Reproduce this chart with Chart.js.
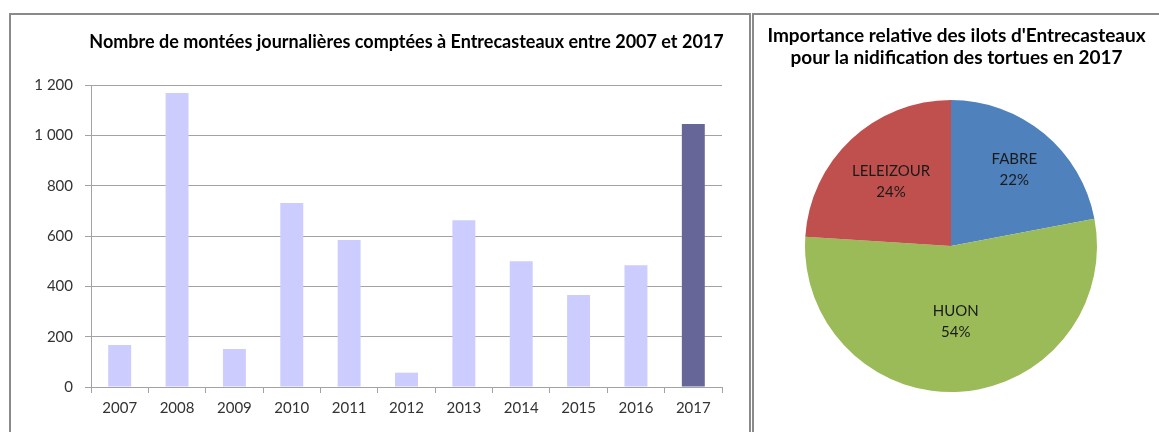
<!DOCTYPE html>
<html>
<head>
<meta charset="utf-8">
<script src="https://cdn.jsdelivr.net/npm/chart.js@4.4.0/dist/chart.umd.min.js"></script>
<style>
  html, body { margin: 0; padding: 0; background: #fff; width: 1159px; height: 432px; overflow: hidden; }
  .box { position: absolute; box-sizing: border-box; border: 2px solid #8a8a8a; border-bottom: none; }
  #leftBox { left: 9px; top: 13px; width: 742px; height: 440px; }
  #rightBox { left: 752px; top: 13px; width: 420px; height: 440px; border-right: none; }
  #barWrap { position: absolute; left: 11px; top: 15px; width: 738px; height: 417px; }
  #pieWrap { position: absolute; left: 754px; top: 15px; width: 405px; height: 417px; }
</style>
</head>
<body>
<div class="box" id="leftBox"></div>
<div class="box" id="rightBox"></div>
<div id="barWrap"><canvas id="bars"></canvas></div>
<div id="pieWrap"><canvas id="pie"></canvas></div>
<script>
// montées journalières, Entrecasteaux
const years = ["2007", "2008", "2009", "2010", "2011", "2012", "2013", "2014", "2015", "2016", "2017"];
const montees = [167, 1168, 151, 731, 584, 57, 663, 500, 366, 484, 1045];
const yTickLabels = ["0", "200", "400", "600", "800", "1 000", "1 200"];

// répartition par ilot en 2017
const ilots = ["FABRE", "HUON", "LELEIZOUR"];
const parts = [22, 54, 24];

const FONT = "Lato";
const GRID = "#a3a3a3";
const TXT = "#333333";

// pie labels drawn inside each slice, name + percent
const sliceLabels = {
  id: "sliceLabels",
  afterDatasetsDraw(chart, args, opts) {
    const ctx = chart.ctx;
    const meta = chart.getDatasetMeta(0);
    const data = chart.data.datasets[0].data;
    const total = data.reduce((a, b) => a + b, 0);
    ctx.save();
    ctx.font = "15px " + FONT;
    ctx.fillStyle = "#1a1a1a";
    ctx.textAlign = "center";
    ctx.textBaseline = "middle";
    meta.data.forEach((arc, i) => {
      const p = arc.getProps(["x", "y", "startAngle", "endAngle", "outerRadius"], true);
      const mid = (p.startAngle + p.endAngle) / 2;
      const r = p.outerRadius * opts.radius[i];
      const cx = p.x + Math.cos(mid) * r;
      const cy = p.y + Math.sin(mid) * r;
      ctx.fillText(chart.data.labels[i], cx, cy - 10.5);
      ctx.fillText(Math.round(data[i] / total * 100) + "%", cx, cy + 10.5);
    });
    ctx.restore();
  }
};

// let the title use more width than the plot area it sits over
const titleRoom = {
  id: "titleRoom",
  afterLayout(chart, args, opts) {
    const t = chart.titleBlock;
    if (opts.full) {
      t.left = 0;
      t.right = chart.width;
    } else {
      t.left -= opts.extra;
      t.right += opts.extra;
    }
    t.width = t.right - t.left;
  }
};

new Chart(document.getElementById("bars"), {
  type: "bar",
  data: {
    labels: years,
    datasets: [{
      data: montees,
      backgroundColor: years.map(y => y === "2017" ? "#666699" : "#ccccff"),
      borderWidth: 0,
      barPercentage: 0.4,
      categoryPercentage: 1
    }]
  },
  options: {
    responsive: true,
    maintainAspectRatio: false,
    animation: false,
    layout: { padding: { left: 0, right: 27, top: 0, bottom: 0 } },
    plugins: {
      legend: { display: false },
      tooltip: { enabled: false },
      titleRoom: { full: false, extra: 30 },
      title: {
        display: true,
        fullSize: false,
        text: "Nombre de montées journalières comptées à Entrecasteaux entre 2007 et 2017",
        color: "#000",
        font: { family: FONT, size: 18, weight: "bold", lineHeight: 1.2 },
        padding: { top: 16, bottom: 32.4 }
      }
    },
    scales: {
      x: {
        afterFit: s => { s.height = 45; },
        grid: { offset: true, drawOnChartArea: false, drawTicks: true, tickLength: 6, color: GRID },
        border: { display: true, color: GRID },
        ticks: { color: TXT, font: { family: FONT, size: 15 }, padding: 6, maxRotation: 0 }
      },
      y: {
        min: 0,
        max: 1200,
        afterFit: s => { s.width = 80; },
        grid: { color: GRID, tickLength: 6 },
        border: { display: true, color: GRID },
        ticks: {
          stepSize: 200,
          color: TXT,
          padding: 12,
          font: { family: FONT, size: 15 },
          callback: (v, i) => yTickLabels[i]
        }
      }
    }
  },
  plugins: [titleRoom]
});

new Chart(document.getElementById("pie"), {
  type: "pie",
  data: {
    labels: ilots,
    datasets: [{
      data: parts,
      backgroundColor: ["#4f81bd", "#9bbb59", "#c0504d"],
      borderWidth: 0
    }]
  },
  options: {
    responsive: true,
    maintainAspectRatio: false,
    animation: false,
    layout: { padding: { left: 51, right: 62, top: 0, bottom: 40 } },
    plugins: {
      legend: { display: false },
      tooltip: { enabled: false },
      titleRoom: { full: true },
      sliceLabels: { radius: [0.68, 0.52, 0.6] },
      title: {
        display: true,
        text: ["Importance relative des ilots d'Entrecasteaux", "pour la nidification des tortues en 2017"],
        color: "#000",
        font: { family: FONT, size: 19, weight: "bold", lineHeight: 22 / 19 },
        padding: { top: 10, bottom: 31 }
      }
    }
  },
  plugins: [titleRoom, sliceLabels]
});
</script>
</body>
</html>
